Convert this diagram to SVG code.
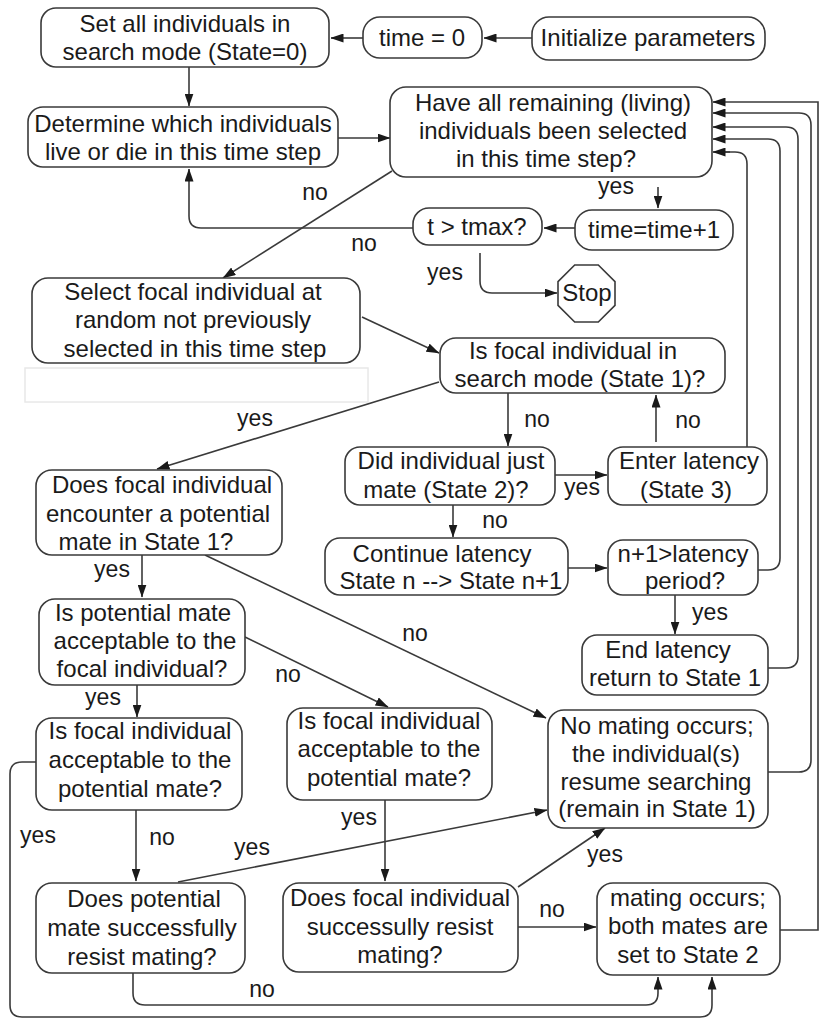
<svg xmlns="http://www.w3.org/2000/svg" width="820" height="1020" viewBox="0 0 820 1020">
<style>
.b{fill:#fff;stroke:#3a3a3a;stroke-width:1.6}
.t{font-family:"Liberation Sans",Arial,sans-serif;font-size:24px;fill:#1a1a1a;text-anchor:middle}
.l{font-family:"Liberation Sans",Arial,sans-serif;font-size:23px;fill:#1a1a1a;text-anchor:middle}
.c{fill:none;stroke:#3a3a3a;stroke-width:1.6}
.a{marker-end:url(#ah)}
</style>
<defs>
<marker id="ah" markerWidth="13" markerHeight="9" refX="12.5" refY="4.5" orient="auto" markerUnits="userSpaceOnUse"><path d="M0,0 L13,4.5 L0,9 z" fill="#1a1a1a"/></marker>
</defs>
<rect width="820" height="1020" fill="#fff"/>
<rect x="25" y="368" width="343" height="34" fill="none" stroke="#e8e8e8" stroke-width="1.5"/>

<g id="connectors">
<path class="c a" d="M532,38 L484,38"/>
<path class="c a" d="M363,38 L331,38"/>
<path class="c a" d="M189,67 L189,106"/>
<path class="c a" d="M338,138 L390,138"/>
<path class="c a" d="M658,187 L658,208"/>
<path class="c a" d="M575,228 L544,228"/>
<path class="c a" d="M413,228 L201,228 Q189,228 189,216 L189,169"/>
<path class="c a" d="M480,253 L480,281 Q480,293 492,293 L557,293"/>
<path class="c a" d="M392,171 L223,278"/>
<path class="c a" d="M362,317 L439,353"/>
<path class="c a" d="M439,382 L157,469"/>
<path class="c a" d="M508,393 L508,446"/>
<path class="c a" d="M656,442 L656,395"/>
<path class="c a" d="M555,475 L607,475"/>
<path class="c a" d="M453,505 L453,537"/>
<path class="c a" d="M568,568 L607,568"/>
<path class="c a" d="M675,595 L675,634"/>
<path class="c" d="M747,447 L747,164 Q747,152 735,152 L720,152"/>
<path class="c a" d="M730,152 L713,152"/>
<path class="c a" d="M758,570 L768,570 Q780,570 780,558 L780,151 Q780,139 768,139 L713,139"/>
<path class="c a" d="M768,668 L786,668 Q798,668 798,656 L798,139 Q798,127 786,127 L713,127"/>
<path class="c a" d="M768,772 L799,772 Q811,772 811,760 L811,125 Q811,113 799,113 L713,113"/>
<path class="c a" d="M780,930 L818,930 L818,102 L713,102"/>
<path class="c a" d="M142,555 L142,597"/>
<path class="c a" d="M205,555 L546,718"/>
<path class="c a" d="M245,637 L388,707"/>
<path class="c a" d="M137,685 L137,717"/>
<path class="c a" d="M136,810 L136,881"/>
<path class="c a" d="M385,800 L385,881"/>
<path class="c a" d="M178,882 L547,810"/>
<path class="c a" d="M518,887 L605,828"/>
<path class="c a" d="M518,927 L596,927"/>
<path class="c a" d="M36,762 L22,762 Q10,762 10,774 L10,1005 Q10,1017 22,1017 L700,1017 Q712,1017 712,1005 L712,977"/>
<path class="c a" d="M133,973 L133,993 Q133,1005 145,1005 L646,1005 Q658,1005 658,993 L658,977"/>
</g>

<g id="labels">
<text class="l" x="315" y="200">no</text>
<text class="l" x="364" y="251">no</text>
<text class="l" x="616" y="194">yes</text>
<text class="l" x="445" y="280">yes</text>
<text class="l" x="255" y="426">yes</text>
<text class="l" x="537" y="427">no</text>
<text class="l" x="688" y="428">no</text>
<text class="l" x="582" y="495">yes</text>
<text class="l" x="495" y="528">no</text>
<text class="l" x="710" y="620">yes</text>
<text class="l" x="415" y="641">no</text>
<text class="l" x="112" y="577">yes</text>
<text class="l" x="288" y="682">no</text>
<text class="l" x="103" y="705">yes</text>
<text class="l" x="38" y="843">yes</text>
<text class="l" x="162" y="845">no</text>
<text class="l" x="252" y="855">yes</text>
<text class="l" x="359" y="825">yes</text>
<text class="l" x="262" y="997">no</text>
<text class="l" x="605" y="862">yes</text>
<text class="l" x="552" y="917">no</text>
</g>

<g id="set-search">
<rect class="b" x="41" y="8" width="288" height="59" rx="15"/>
<text class="t" x="185" y="32">Set all individuals in</text>
<text class="t" x="185" y="60">search mode (State=0)</text>
</g>
<g id="time0">
<rect class="b" x="363" y="17" width="119" height="41" rx="17"/>
<text class="t" x="422" y="46">time = 0</text>
</g>
<g id="init">
<rect class="b" x="532" y="17" width="233" height="43" rx="17"/>
<text class="t" x="648" y="46">Initialize parameters</text>
</g>
<g id="live-die">
<rect class="b" x="28" y="107" width="310" height="60" rx="15"/>
<text class="t" x="183" y="132">Determine which individuals</text>
<text class="t" x="183" y="160">live or die in this time step</text>
</g>
<g id="all-selected">
<rect class="b" x="390" y="87" width="322" height="90" rx="16"/>
<text class="t" x="553" y="111">Have all remaining (living)</text>
<text class="t" x="553" y="139">individuals been selected</text>
<text class="t" x="546" y="167">in this time step?</text>
</g>
<g id="time-inc">
<rect class="b" x="575" y="210" width="158" height="40" rx="17"/>
<text class="t" x="654" y="238">time=time+1</text>
</g>
<g id="tmax">
<rect class="b" x="413" y="208" width="129" height="37" rx="16"/>
<text class="t" x="477" y="235">t &gt; tmax?</text>
</g>
<g id="stop">
<polygon class="b" points="574.7,265 598.3,265 615,281.7 615,305.3 598.3,322 574.7,322 558,305.3 558,281.7"/>
<text class="t" x="587" y="301">Stop</text>
</g>
<g id="select-focal">
<rect class="b" x="32" y="278" width="328" height="85" rx="16"/>
<text class="t" x="193" y="300">Select focal individual at</text>
<text class="t" x="193" y="328">random not previously</text>
<text class="t" x="195" y="357">selected in this time step</text>
</g>
<g id="search-mode">
<rect class="b" x="440" y="338" width="285" height="55" rx="16"/>
<text class="t" x="573" y="359">Is focal individual in</text>
<text class="t" x="580" y="387">search mode (State 1)?</text>
</g>
<g id="encounter">
<rect class="b" x="36" y="470" width="246" height="85" rx="16"/>
<text class="t" x="162" y="493">Does focal individual</text>
<text class="t" x="158" y="522">encounter a potential</text>
<text class="t" x="146" y="550">mate in State 1?</text>
</g>
<g id="just-mate">
<rect class="b" x="345" y="447" width="210" height="58" rx="15"/>
<text class="t" x="451" y="469">Did individual just</text>
<text class="t" x="446" y="498">mate (State 2)?</text>
</g>
<g id="enter-latency">
<rect class="b" x="608" y="447" width="159" height="58" rx="15"/>
<text class="t" x="689" y="469">Enter latency</text>
<text class="t" x="686" y="498">(State 3)</text>
</g>
<g id="continue-latency">
<rect class="b" x="325" y="538" width="243" height="57" rx="15"/>
<text class="t" x="442" y="562">Continue latency</text>
<text class="t" x="451" y="589">State n --&gt; State n+1</text>
</g>
<g id="latency-period">
<rect class="b" x="608" y="540" width="150" height="55" rx="15"/>
<text class="t" x="683" y="562">n+1&gt;latency</text>
<text class="t" x="685" y="589">period?</text>
</g>
<g id="end-latency">
<rect class="b" x="582" y="635" width="186" height="60" rx="15"/>
<text class="t" x="668" y="658">End latency</text>
<text class="t" x="675" y="686">return to State 1</text>
</g>
<g id="mate-acceptable">
<rect class="b" x="39" y="599" width="206" height="86" rx="16"/>
<text class="t" x="143" y="621">Is potential mate</text>
<text class="t" x="145" y="649">acceptable to the</text>
<text class="t" x="142" y="677">focal individual?</text>
</g>
<g id="focal-acceptable-r">
<rect class="b" x="36" y="718" width="206" height="92" rx="16"/>
<text class="t" x="140" y="739">Is focal individual</text>
<text class="t" x="140" y="768">acceptable to the</text>
<text class="t" x="140" y="797">potential mate?</text>
</g>
<g id="focal-acceptable-q">
<rect class="b" x="287" y="708" width="205" height="92" rx="16"/>
<text class="t" x="389" y="729">Is focal individual</text>
<text class="t" x="389" y="757">acceptable to the</text>
<text class="t" x="389" y="786">potential mate?</text>
</g>
<g id="no-mating">
<rect class="b" x="548" y="710" width="220" height="118" rx="16"/>
<text class="t" x="657" y="734">No mating occurs;</text>
<text class="t" x="656" y="762">the individual(s)</text>
<text class="t" x="656" y="790">resume searching</text>
<text class="t" x="657" y="817">(remain in State 1)</text>
</g>
<g id="mate-resist">
<rect class="b" x="36" y="883" width="209" height="90" rx="16"/>
<text class="t" x="144" y="907">Does potential</text>
<text class="t" x="142" y="936">mate successfully</text>
<text class="t" x="142" y="965">resist mating?</text>
</g>
<g id="focal-resist">
<rect class="b" x="283" y="883" width="235" height="89" rx="16"/>
<text class="t" x="400" y="906">Does focal individual</text>
<text class="t" x="400" y="935">successully resist</text>
<text class="t" x="400" y="963">mating?</text>
</g>
<g id="mating-occurs">
<rect class="b" x="597" y="883" width="183" height="92" rx="16"/>
<text class="t" x="688" y="906">mating occurs;</text>
<text class="t" x="688" y="934">both mates are</text>
<text class="t" x="688" y="963">set to State 2</text>
</g>
</svg>
